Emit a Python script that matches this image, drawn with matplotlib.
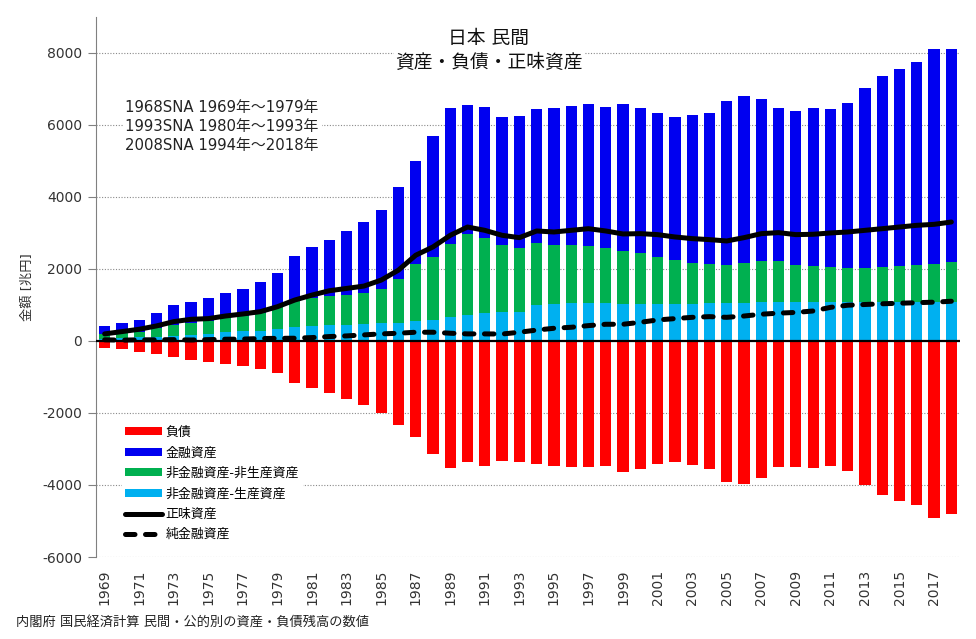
import matplotlib
matplotlib.use("Agg")
import matplotlib.pyplot as plt
from matplotlib.patches import Patch
from matplotlib.lines import Line2D
import numpy as np

plt.rcParams['font.family'] = ['DejaVu Sans', 'Noto Sans CJK JP']
plt.rcParams['axes.unicode_minus'] = False

years = list(range(1969, 2019))

# 非金融資産-生産資産 (兆円)
produced = [60, 80, 100, 120, 140, 166, 194, 249, 286, 286,
            341, 387, 415, 442, 442, 479, 507, 507, 562, 590,
            673, 719, 774, 802, 802, 995, 1023, 1042, 1051, 1051,
            1023, 1023, 1023, 1023, 1023, 1042, 1051, 1060, 1070, 1070,
            1070, 1070, 1070, 1070, 1070, 1070, 1070, 1075, 1075, 1080]

# 非金融資産-非生産資産
nonproduced = [120, 135, 158, 230, 300, 341, 368, 387, 405, 479,
               609, 747, 765, 812, 839, 857, 931, 1207, 1576, 1742,
               2009, 2240, 2074, 1862, 1770, 1733, 1632, 1613, 1594, 1521,
               1466, 1410, 1300, 1217, 1134, 1087, 1050, 1097, 1142, 1142,
               1031, 1004, 976, 949, 949, 976, 1004, 1026, 1054, 1104]

# 金融資産
financial = [235, 283, 332, 424, 555, 581, 627, 700, 747, 876,
             939, 1225, 1428, 1548, 1770, 1964, 2193, 2554, 2867, 3346,
             3770, 3585, 3632, 3539, 3659, 3715, 3815, 3871, 3936, 3926,
             4092, 4037, 4009, 3981, 4120, 4203, 4563, 4645, 4507, 4258,
             4286, 4396, 4404, 4596, 5011, 5297, 5463, 5630, 5964, 5909]

# 負債
liabilities = [-204, -232, -296, -370, -454, -519, -574, -648, -704, -787,
               -880, -1176, -1315, -1435, -1602, -1787, -1991, -2324, -2658, -3130,
               -3537, -3371, -3463, -3324, -3371, -3408, -3463, -3491, -3491, -3463,
               -3630, -3547, -3408, -3352, -3435, -3547, -3908, -3963, -3797, -3491,
               -3491, -3519, -3463, -3602, -3991, -4269, -4436, -4547, -4908, -4797]

# 正味資産
net_worth = [194, 258, 323, 415, 535, 599, 618, 691, 747, 811,
             949, 1134, 1272, 1392, 1456, 1521, 1687, 1963, 2378, 2608,
             2931, 3161, 3069, 2931, 2866, 3051, 3023, 3069, 3115, 3051,
             2968, 2977, 2950, 2885, 2839, 2811, 2774, 2866, 2977, 3005,
             2950, 2959, 2996, 3023, 3069, 3115, 3161, 3208, 3235, 3300]

# 純金融資産
net_financial = [30, 20, 30, 30, 35, 25, 35, 46, 50, 65,
                 70, 74, 92, 120, 138, 166, 194, 212, 240, 240,
                 212, 194, 194, 190, 240, 300, 350, 378, 424, 461,
                 461, 516, 581, 618, 654, 673, 654, 690, 740, 770,
                 790, 830, 930, 990, 1010, 1030, 1045, 1060, 1075, 1100]

c_red = '#FF0000'
c_blue = '#0000F0'
c_green = '#00B050'
c_lblue = '#00B0F0'

fig = plt.figure(figsize=(9.76, 6.39), dpi=100)
ax = fig.add_axes([0.0984, 0.1283, 0.8852, 0.8456])

x = np.arange(len(years))
w = 0.65
prod = np.array(produced)
nonp = np.array(nonproduced)
fin = np.array(financial)

ax.bar(x, prod, w, color=c_lblue, zorder=2)
ax.bar(x, nonp, w, bottom=prod, color=c_green, zorder=2)
ax.bar(x, fin, w, bottom=prod + nonp, color=c_blue, zorder=2)
ax.bar(x, liabilities, w, color=c_red, zorder=2)

ax.axhline(0, color='black', lw=1.6, zorder=3)

ax.plot(x, net_worth, color='black', lw=3.6, solid_capstyle='round',
        solid_joinstyle='round', zorder=4)
ax.plot(x, net_financial, color='black', lw=3.6, dashes=(1.9, 2.1),
        dash_capstyle='round', zorder=4)

ax.set_xlim(-0.5, len(years) - 0.5)
ax.set_ylim(-6000, 9000)
ax.set_yticks(range(-6000, 8001, 2000))
ax.set_xticks(x[::2])
ax.set_xticklabels([str(y) for y in years[::2]], rotation=90, fontsize=10,
                   color='#333333')
ax.tick_params(axis='x', length=0, pad=9)
ax.tick_params(axis='y', labelsize=10, labelcolor='#333333', color='#808080',
               length=6, pad=4)

for s in ['top', 'right', 'bottom']:
    ax.spines[s].set_visible(False)
ax.spines['left'].set_color('#808080')

for v in range(-6000, 8001, 2000):
    if v != 0:
        ax.axhline(v, color='#8a8a8a', lw=0.8, ls=(0, (1, 1.5)), zorder=1)

ax.set_ylabel('金額 [兆円]', fontsize=9.5, color='#333333')
ax.yaxis.set_label_coords(-0.072, 0.5)

# 注記
ax.text(0.034, 0.845, '1968SNA 1969年～1979年\n1993SNA 1980年～1993年\n2008SNA 1994年～2018年',
        transform=ax.transAxes, fontsize=10.7, color='#222222', va='top', ha='left',
        linespacing=1.33, zorder=5,
        bbox=dict(facecolor='white', edgecolor='none', pad=2))

# タイトル
fig.text(0.501, 0.94, '日本 民間', fontsize=13.5, ha='center', va='center',
         color='#111111')
fig.text(0.501, 0.902, '資産・負債・正味資産', fontsize=13.5, ha='center', va='center',
         color='#111111', bbox=dict(facecolor='white', edgecolor='none', pad=1))

handles = [
    Patch(facecolor=c_red, edgecolor='none', label='負債'),
    Patch(facecolor=c_blue, edgecolor='none', label='金融資産'),
    Patch(facecolor=c_green, edgecolor='none', label='非金融資産-非生産資産'),
    Patch(facecolor=c_lblue, edgecolor='none', label='非金融資産-生産資産'),
    Line2D([], [], color='black', lw=3.6, solid_capstyle='round', label='正味資産'),
    Line2D([], [], color='black', lw=3.6, dashes=(1.9, 2.1), dash_capstyle='round',
           label='純金融資産'),
]
leg = ax.legend(handles=handles, loc='upper left', bbox_to_anchor=(0.022, 0.262),
                fontsize=9.3, frameon=True, fancybox=False, edgecolor='none',
                facecolor='white', framealpha=1, handlelength=2.8, handleheight=0.55,
                handletextpad=0.3, labelspacing=0.58, borderpad=0.3)
leg.set_zorder(5)

fig.text(0.016, 0.027, '内閣府 国民経済計算 民間・公的別の資産・負債残高の数値',
         fontsize=9.5, color='#222222', ha='left', va='center')

fig.savefig('out.png', dpi=100)
